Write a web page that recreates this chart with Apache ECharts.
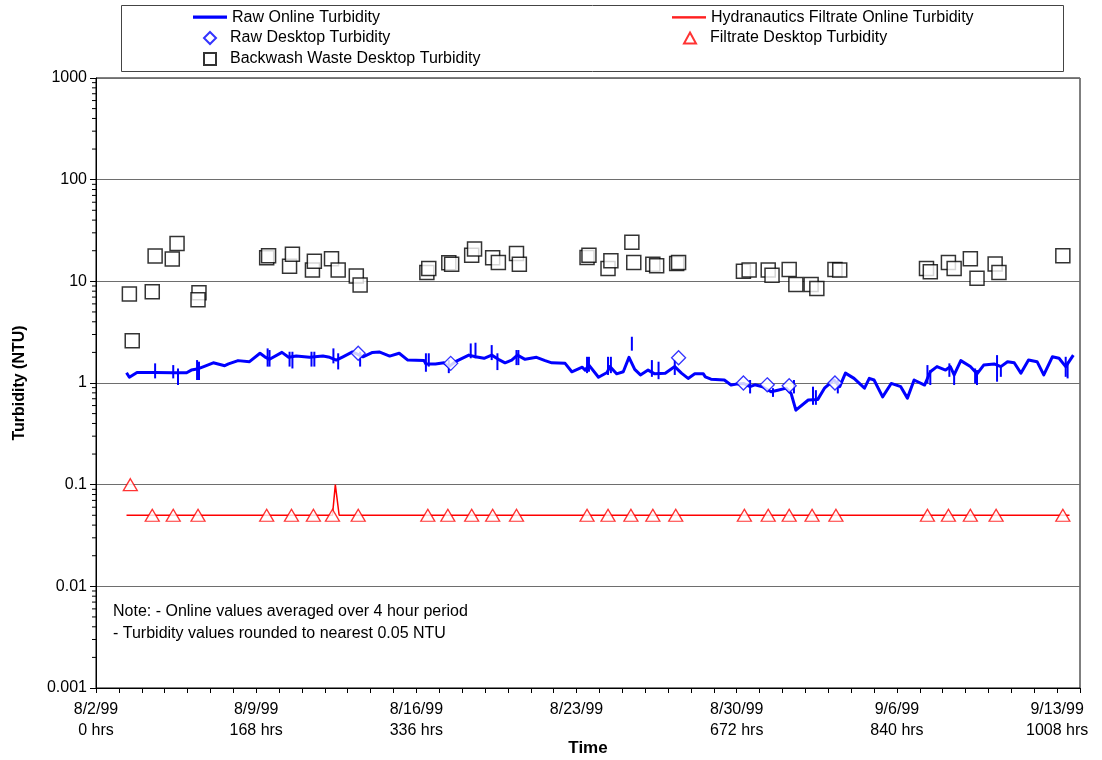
<!DOCTYPE html>
<html>
<head>
<meta charset="utf-8">
<script src="https://cdn.jsdelivr.net/npm/echarts@6/dist/echarts.min.js"></script>
<style>
  html, body { margin: 0; padding: 0; background: #fff; }
  #chart { width: 1102px; height: 760px; }
</style>
</head>
<body>
<div id="chart"></div>
<script>
// axis labels
var dateLabels = ['8/2/99', '8/9/99', '8/16/99', '8/23/99', '8/30/99', '9/6/99', '9/13/99'];
var hrsLabels = ['0 hrs', '168 hrs', '336 hrs', '', '672 hrs', '840 hrs', '1008 hrs'];
var yTickLabels = ['0.001', '0.01', '0.1', '1', '10', '100', '1000'];

// raw online turbidity (4 hr averages)
var rawOnlineHours = [32, 35, 43, 62, 81, 95, 100, 106, 113, 123, 135, 139, 149, 161, 172, 177, 182, 195, 202, 210,
    224, 238, 245, 252, 259, 269, 280, 290, 297, 308, 318, 327, 344, 346, 356, 365, 370, 377, 391, 398,
    407, 415, 422, 429, 436, 442, 450, 462, 471, 478, 492, 499, 510, 513, 517, 527, 536, 539, 546, 553,
    559, 565, 571, 579, 586, 597, 607, 614, 621, 628, 637, 639, 645, 659, 666, 673, 679, 686, 691, 699,
    708, 715, 724, 729, 734, 747, 757, 764, 774, 780, 786, 795, 806, 811, 816, 825, 834, 844, 851, 858,
    869, 875, 882, 891, 896, 900, 907, 917, 924, 931, 942, 949, 956, 963, 970, 978, 987, 994, 1003, 1010,
    1017, 1025];
var rawOnlineNtu = [1.26, 1.14, 1.27, 1.27, 1.26, 1.26, 1.34, 1.37, 1.45, 1.58, 1.48, 1.54, 1.66, 1.62, 1.96, 1.81, 1.71, 2.0, 1.79, 1.84,
    1.79, 1.84, 1.79, 1.68, 1.81, 2.02, 1.81, 2.0, 2.02, 1.84, 1.96, 1.68, 1.66, 1.54, 1.54, 1.58, 1.45, 1.62, 1.88, 1.81,
    1.75, 1.88, 1.71, 1.58, 1.68, 1.88, 1.71, 1.79, 1.66, 1.58, 1.56, 1.29, 1.43, 1.34, 1.50, 1.14, 1.27, 1.45, 1.23, 1.29,
    1.79, 1.36, 1.20, 1.34, 1.23, 1.25, 1.45, 1.25, 1.11, 1.23, 1.23, 1.15, 1.09, 1.07, 0.955, 0.98, 0.99, 0.92, 0.96, 0.92,
    0.82, 0.85, 0.89, 0.79, 0.54, 0.68, 0.69, 0.89, 1.07, 0.92, 1.25, 1.11, 0.89, 1.11, 1.07, 0.73, 0.99, 0.92, 0.71, 1.07,
    0.955, 1.29, 1.45, 1.34, 1.45, 1.20, 1.66, 1.45, 1.23, 1.50, 1.54, 1.45, 1.62, 1.58, 1.25, 1.68, 1.62, 1.20, 1.81, 1.75,
    1.45, 1.88];

// short excursions in the online record
var spikeHours = [62, 81, 86, 106, 108, 180, 182, 203, 206, 226, 229, 249, 254, 277,
    346, 349, 370, 393, 398, 415, 421, 441, 443, 515, 517, 537, 540, 562, 583, 590, 607,
    686, 710, 732, 752, 755, 778, 872, 875, 895, 900, 922, 924, 945, 949, 1017, 1019];
var spikeLow = [1.11, 1.11, 0.955, 1.07, 1.07, 1.45, 1.45, 1.45, 1.39, 1.45, 1.45, 1.56, 1.36, 1.45,
    1.29, 1.45, 1.25, 1.75, 1.75, 1.68, 1.34, 1.50, 1.50, 1.25, 1.29, 1.20, 1.25, 2.08, 1.15, 1.09, 1.20,
    0.79, 0.73, 0.79, 0.61, 0.61, 0.79, 0.99, 0.955, 1.15, 0.955, 0.99, 0.955, 1.03, 1.15, 1.15, 1.11];
var spikeHigh = [1.56, 1.50, 1.39, 1.68, 1.62, 2.19, 2.11, 2.03, 2.03, 2.03, 2.03, 2.19, 1.96, 2.03,
    1.96, 1.96, 1.68, 2.45, 2.49, 2.36, 1.96, 2.11, 2.11, 1.81, 1.81, 1.81, 1.81, 2.85, 1.68, 1.62, 1.68,
    1.07, 0.89, 1.07, 0.92, 0.85, 1.07, 1.50, 1.34, 1.56, 1.29, 1.39, 1.34, 1.88, 1.45, 1.81, 1.62];

// filtrate online turbidity
var filtOnlineHours = [32, 248, 251, 255, 1021];
var filtOnlineNtu = [0.05, 0.05, 0.1, 0.05, 0.05];

// raw desktop samples
var rawDeskHours = [275, 372, 611, 679, 704, 727, 775];
var rawDeskNtu = [1.96, 1.56, 1.77, 1.0, 0.96, 0.94, 1.0];

// filtrate desktop samples
var filtDeskHours = [36, 59, 81, 107, 179, 205, 228, 248, 275, 348, 369, 394, 416, 441, 515, 537, 561, 584, 608,
    680, 705, 727, 751, 776, 872, 894, 917, 944, 1014];
var filtDeskNtu = [0.1, 0.05, 0.05, 0.05, 0.05, 0.05, 0.05, 0.05, 0.05, 0.05, 0.05, 0.05, 0.05, 0.05, 0.05, 0.05, 0.05, 0.05, 0.05,
    0.05, 0.05, 0.05, 0.05, 0.05, 0.05, 0.05, 0.05, 0.05, 0.05];

// backwash waste desktop samples
var backwashHours = [35, 38, 59, 62, 80, 85, 108, 107, 179, 181, 203, 206, 227, 229, 247, 254, 273, 277,
    347, 349, 370, 373, 394, 397, 416, 422, 441, 444, 515, 517, 537, 540, 562, 564, 584, 588, 609, 611,
    679, 685, 705, 709, 727, 734, 750, 756, 775, 780, 871, 875, 894, 900, 917, 924, 943, 947, 1014];
var backwashNtu = [7.5, 2.6, 7.9, 17.7, 16.6, 23.6, 7.7, 6.6, 17.1, 17.9, 14.1, 18.5, 12.9, 15.8, 16.7, 12.9, 11.3, 9.2,
    12.2, 13.4, 15.2, 14.7, 18.1, 20.8, 17.1, 15.3, 18.8, 14.7, 17.2, 18.1, 13.4, 15.9, 24.3, 15.3, 14.7, 14.2, 15.0, 15.3,
    12.6, 12.9, 12.9, 11.5, 13.1, 9.3, 9.3, 8.5, 13.1, 12.9, 13.4, 12.4, 15.3, 13.4, 16.7, 10.7, 14.8, 12.2, 17.9];

function pairs(xs, ys) {
    return xs.map(function (x, i) { return [x, ys[i]]; });
}

// minor ticks of the log axis (2..9 in every decade)
var minorTicks = [];
for (var e = -3; e < 3; e++) {
    for (var m = 2; m <= 9; m++) minorTicks.push([0, m * Math.pow(10, e)]);
}

var font = 'Liberation Sans, Arial, sans-serif';
var lineIcon = 'path://M0,0h40v1h-40z';
var chart = echarts.init(document.getElementById('chart'));

var legendText = { fontSize: 16, lineHeight: 16, color: '#000', fontFamily: font };
var markerText = { fontSize: 16, lineHeight: 16, color: '#000', fontFamily: font, padding: [0, 0, 0, 9] };

var option = {
    animation: false,
    backgroundColor: '#fff',
    textStyle: { fontFamily: font, color: '#000' },
    grid: {
        left: 96, right: 22, top: 78, bottom: 72,
        outerBoundsMode: 'none',
        show: true, borderColor: '#000', borderWidth: 1
    },
    legend: [
        {
            orient: 'vertical', left: 193, top: 10, padding: 0,
            itemWidth: 34, itemHeight: 12, textStyle: legendText,
            data: [{ name: 'Raw Online Turbidity', icon: lineIcon, lineStyle: { width: 3 } }]
        },
        {
            orient: 'vertical', left: 203, top: 30, padding: 0,
            itemWidth: 12, itemHeight: 12, itemGap: 5, textStyle: markerText,
            data: ['Raw Desktop Turbidity', 'Backwash Waste Desktop Turbidity']
        },
        {
            orient: 'vertical', left: 672, top: 10, padding: 0,
            itemWidth: 34, itemHeight: 12, textStyle: legendText,
            data: [{ name: 'Hydranautics Filtrate Online Turbidity', icon: lineIcon, lineStyle: { width: 1.5 } }]
        },
        {
            orient: 'vertical', left: 683, top: 30, padding: 0,
            itemWidth: 12, itemHeight: 11, itemGap: 5, textStyle: markerText,
            data: ['Filtrate Desktop Turbidity']
        }
    ],
    graphic: [
        {
            type: 'rect', left: 121, top: 5, z: -1,
            shape: { width: 942, height: 66 },
            style: { fill: '#fff', stroke: '#444', lineWidth: 1 }
        },
        // legend line samples at full weight
        {
            type: 'line', z: 100, silent: true,
            shape: { x1: 193, y1: 17, x2: 227, y2: 17 },
            style: { stroke: '#0000ff', lineWidth: 3 }
        },
        {
            type: 'line', z: 100, silent: true,
            shape: { x1: 672, y1: 17, x2: 706, y2: 17 },
            style: { stroke: '#ff0000', lineWidth: 1.5 }
        },
        {
            type: 'text', left: 113, top: 604,
            style: { text: 'Note: - Online values averaged over 4 hour period', font: '16px ' + font, fill: '#000' }
        },
        {
            type: 'text', left: 113, top: 626,
            style: { text: '- Turbidity values rounded to nearest 0.05 NTU', font: '16px ' + font, fill: '#000' }
        }
    ],
    xAxis: {
        type: 'value', min: 0, max: 1032, interval: 24,
        name: 'Time', nameLocation: 'middle', nameGap: 52, nameMoveOverlap: false,
        nameTextStyle: { fontSize: 17, fontWeight: 'bold', color: '#000', fontFamily: font },
        axisLine: { lineStyle: { color: '#000', width: 1 } },
        axisTick: { length: 5, lineStyle: { color: '#000' } },
        axisLabel: {
            margin: 11, fontSize: 16, lineHeight: 21, color: '#000', fontFamily: font,
            formatter: function (v) {
                if (v % 168 !== 0 || v > 1008) return '';
                var k = v / 168;
                return dateLabels[k] + '\n' + hrsLabels[k];
            }
        },
        splitLine: { show: false }
    },
    yAxis: {
        type: 'log', logBase: 10, min: 0.001, max: 1000,
        name: 'Turbidity (NTU)', nameLocation: 'middle', nameGap: 68,
        nameTextStyle: { fontSize: 16, fontWeight: 'bold', color: '#000', fontFamily: font },
        axisLine: { show: true, lineStyle: { color: '#000', width: 1 } },
        axisTick: { show: true, length: 6, lineStyle: { color: '#000' } },
        axisLabel: {
            margin: 9, fontSize: 16, color: '#000', fontFamily: font,
            formatter: function (v) {
                return yTickLabels[Math.round(Math.log10(v)) + 3];
            }
        },
        splitLine: { show: true, lineStyle: { color: '#6e6e6e', width: 1 } }
    },
    series: [
        {
            name: 'Raw Online Turbidity', type: 'line',
            data: pairs(rawOnlineHours, rawOnlineNtu),
            symbol: 'none', color: '#0000ff',
            lineStyle: { color: '#0000ff', width: 3, join: 'round' },
            z: 3
        },
        {
            name: 'spikes', type: 'custom', silent: true, z: 3,
            data: spikeHours.map(function (h, i) { return [h, spikeLow[i], spikeHigh[i]]; }),
            encode: { x: 0, y: [1, 2] },
            renderItem: function (params, api) {
                var a = api.coord([api.value(0), api.value(1)]);
                var b = api.coord([api.value(0), api.value(2)]);
                return {
                    type: 'line',
                    shape: { x1: a[0], y1: a[1], x2: b[0], y2: b[1] },
                    style: { stroke: '#0000ff', lineWidth: 2 }
                };
            }
        },
        {
            name: 'Hydranautics Filtrate Online Turbidity', type: 'line',
            data: pairs(filtOnlineHours, filtOnlineNtu),
            symbol: 'none', color: '#ff0000',
            lineStyle: { color: '#ff0000', width: 1.5 },
            z: 3
        },
        {
            name: 'Raw Desktop Turbidity', type: 'scatter',
            data: pairs(rawDeskHours, rawDeskNtu),
            symbol: 'diamond', symbolSize: 14,
            itemStyle: { color: '#fff', borderColor: '#0000ff', borderWidth: 1.3 },
            z: 4
        },
        {
            name: 'Filtrate Desktop Turbidity', type: 'scatter',
            data: pairs(filtDeskHours, filtDeskNtu),
            symbol: 'triangle', symbolSize: [14, 12],
            itemStyle: { color: '#fff', borderColor: '#ff0000', borderWidth: 1.3 },
            z: 4
        },
        {
            name: 'Backwash Waste Desktop Turbidity', type: 'scatter',
            data: pairs(backwashHours, backwashNtu),
            symbol: 'rect', symbolSize: 14,
            itemStyle: { color: '#fff', borderColor: '#000', borderWidth: 1.5 },
            z: 5
        },
        {
            name: 'minor', type: 'custom', silent: true,
            data: minorTicks,
            encode: { x: 0, y: 1 },
            renderItem: function (params, api) {
                var p = api.coord([0, api.value(1)]);
                return {
                    type: 'line',
                    shape: { x1: p[0] - 4, y1: p[1], x2: p[0], y2: p[1] },
                    style: { stroke: '#000', lineWidth: 1 }
                };
            }
        }
    ]
};
chart.setOption(option);
</script>
</body>
</html>
